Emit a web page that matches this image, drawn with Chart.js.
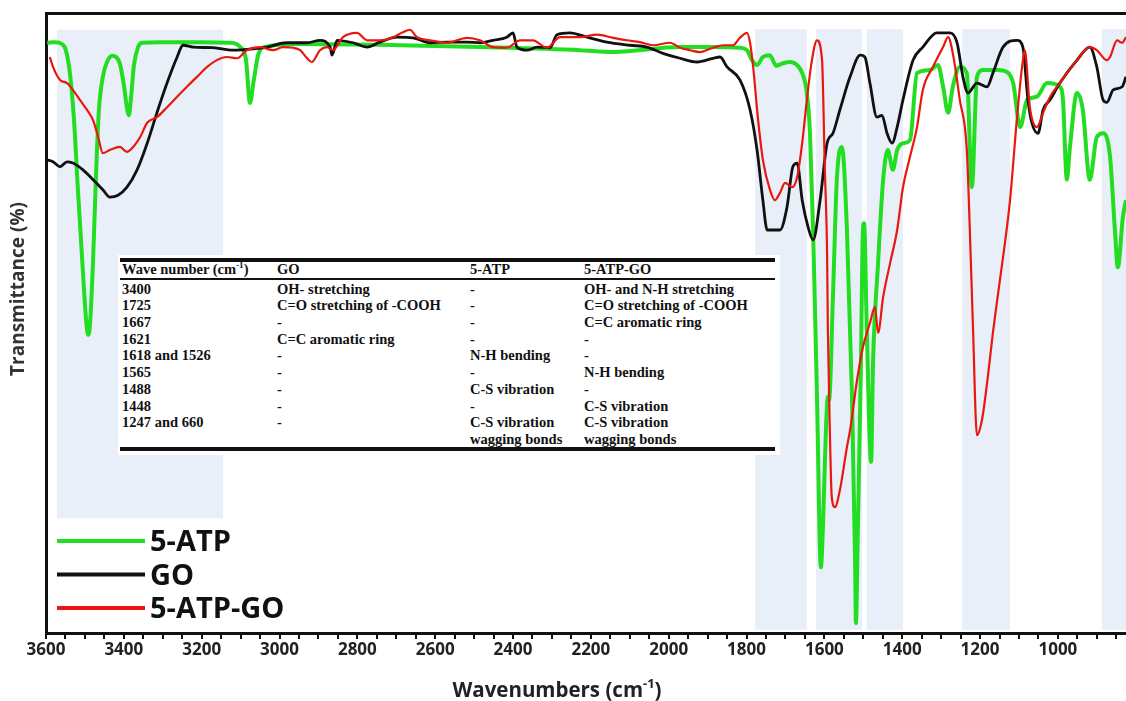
<!DOCTYPE html>
<html>
<head>
<meta charset="utf-8">
<script src="https://cdn.jsdelivr.net/npm/chart.js@4.4.1/dist/chart.umd.min.js"></script>
<style>
html, body { margin: 0; padding: 0; background: #fff; }
#wrap { position: relative; width: 1126px; height: 701px; overflow: hidden; }
#peakTable { position: absolute; left: 118px; top: 255px; width: 662px; height: 200px; background: #fff;
    font: bold 14.5px 'Liberation Serif', 'Times New Roman', serif; color: #111; }
#peakTable .rule { position: absolute; left: 2px; width: 655px; background: #111; }
#peakTable .cell { position: absolute; white-space: pre; line-height: 16.7px; }
#peakTable sup { font-size: 9px; line-height: 0; }
</style>
</head>
<body>
<div id="wrap">
    <canvas id="ftir" width="1126" height="701"></canvas>
    <div id="peakTable"></div>
</div>
<script>
// axis
const xTickLabels = [3600, 3400, 3200, 3000, 2800, 2600, 2400, 2200, 2000, 1800, 1600, 1400, 1200, 1000];
const xMin = 825;
const xMax = 3600;

// 5-ATP (green)
const atpWave = [3597,3577,3559,3549,3538,3528,3518,3507,3497,3492,
    3487,3479,3471,3464,3453,3443,3430,3420,3410,3400,
    3392,3387,3382,3374,3364,3353,3307,3204,3127,3101,
    3086,3076,3066,3055,3040,2947,2690,2485,2228,2143,
    1971,1886,1817,1799,1786,1773,1758,1740,1724,1706,
    1688,1670,1657,1645,1637,1629,1619,1609,1604,1596,
    1591,1588,1578,1568,1555,1542,1529,1521,1519,1514,
    1506,1501,1498,1491,1480,1475,1462,1449,1437,1424,
    1413,1398,1380,1362,1329,1308,1295,1282,1270,1252,
    1234,1221,1208,1192,1156,1131,1115,1097,1079,1054,
    1028,995,987,977,969,951,936,918,900,884,
    866,853,846,833,825];
const atpT = [95.2,95.3,95.0,94.0,90.0,82.7,71.5,60.2,50.5,48.1,
    49.7,60.2,74.7,84.4,90.0,92.1,93.1,92.9,91.8,88.4,
    84.7,83.5,86.0,91.6,94.4,95.2,95.3,95.3,95.2,94.5,
    92.4,85.5,89.2,93.2,94.5,95.0,94.8,94.5,94.0,93.7,
    94.5,94.5,94.4,94.0,92.4,91.6,92.9,93.2,91.5,91.9,
    92.1,91.6,90.3,87.1,80.6,65.0,38.1,10.6,16.6,32.7,
    38.1,37.6,54.2,73.1,78.4,65.0,38.1,11.3,1.6,16.6,
    43.5,65.0,66.1,48.9,27.6,43.5,59.7,73.1,77.9,74.7,
    77.9,79.0,79.5,90.3,90.8,91.6,88.1,83.9,88.1,91.3,
    90.3,71.9,89.7,90.8,90.8,90.5,88.7,81.6,86.0,86.5,
    88.7,88.1,86.0,73.1,78.4,87.1,84.4,73.1,80.0,80.6,
    76.8,64.5,59.0,67.1,69.8];

// GO (black)
const goWave = [3597,3582,3564,3546,3531,3505,3479,3454,3436,3415,
    3392,3366,3340,3315,3289,3263,3248,3222,3171,3120,
    3068,3032,2981,2929,2896,2870,2865,2852,2811,2775,
    2742,2698,2657,2613,2570,2518,2485,2451,2416,2400,
    2390,2364,2338,2305,2287,2254,2210,2159,2099,2056,
    2015,1971,1927,1886,1868,1850,1817,1791,1773,1758,
    1747,1714,1696,1681,1670,1657,1642,1629,1611,1593,
    1578,1560,1534,1508,1496,1483,1465,1452,1439,1426,
    1413,1398,1372,1347,1311,1277,1259,1244,1231,1208,
    1182,1167,1141,1105,1090,1077,1067,1051,1038,1020,
    995,951,918,900,884,874,858,835,825];
const goT = [76.3,76.0,75.2,76.0,75.8,74.7,73.1,71.5,70.3,70.6,
    71.9,74.7,79.0,83.9,88.7,92.9,94.8,94.5,94.4,94.0,
    94.2,94.5,95.2,95.2,95.6,94.5,93.2,95.6,95.2,94.5,
    95.3,96.1,96.0,95.2,95.3,95.3,95.2,95.6,96.1,96.8,
    94.5,94.0,94.5,94.4,96.5,96.8,96.1,95.3,94.8,94.5,
    93.5,92.7,92.1,92.7,92.9,91.3,89.2,84.4,77.9,69.8,
    65.0,65.0,68.7,75.2,75.8,69.8,65.5,63.4,69.8,79.0,
    80.6,84.4,89.7,93.2,92.9,88.7,83.2,83.5,80.6,79.0,
    81.6,86.0,92.4,94.5,96.8,96.8,95.2,89.7,87.1,88.7,
    88.1,90.3,94.5,95.6,94.5,86.0,82.3,80.6,84.4,86.0,
    88.7,92.4,94.5,91.3,86.0,85.6,87.6,88.1,89.7];

// 5-ATP-GO (red)
const atpGoWave = [3590,3582,3564,3546,3531,3513,3495,3479,3466,3454,
    3436,3410,3392,3376,3358,3340,3315,3289,3263,3238,
    3212,3186,3161,3135,3109,3084,3050,3017,2991,2965,
    2947,2929,2917,2896,2878,2863,2837,2801,2775,2742,
    2708,2683,2665,2647,2613,2570,2518,2485,2451,2416,
    2382,2349,2313,2279,2228,2184,2143,2107,2074,2040,
    1997,1971,1945,1920,1886,1861,1835,1817,1799,1791,
    1783,1771,1758,1740,1727,1714,1701,1683,1670,1657,
    1645,1632,1619,1606,1599,1593,1591,1586,1581,1573,
    1560,1542,1534,1516,1501,1483,1470,1462,1449,1431,
    1413,1398,1380,1362,1347,1321,1295,1282,1270,1252,
    1234,1226,1218,1208,1195,1182,1167,1156,1149,1123,
    1105,1092,1085,1072,1054,1038,1020,995,951,918,
    900,874,866,848,835,825];
const atpGoT = [92.9,91.3,89.2,88.7,87.6,86.0,84.4,82.7,80.0,77.4,
    77.9,78.4,77.6,78.4,80.0,82.3,83.2,84.8,86.5,88.1,
    89.7,91.3,92.4,92.9,92.7,94.0,94.5,94.0,94.5,94.4,
    94.0,92.7,92.1,94.0,94.5,94.0,96.1,96.8,95.6,95.6,
    96.1,96.9,97.3,96.1,95.6,95.2,96.0,95.6,94.5,94.4,
    95.6,95.6,94.4,96.1,96.1,96.5,96.0,95.6,95.3,94.8,
    95.2,94.4,94.0,93.7,94.4,94.8,94.8,96.0,96.8,95.2,
    91.3,83.2,76.3,71.5,69.8,71.0,72.6,71.9,73.5,79.0,
    86.0,92.4,95.6,92.4,75.2,61.0,48.9,32.7,21.9,20.3,
    23.1,30.0,32.7,40.8,46.1,50.0,52.6,48.4,54.2,59.7,
    65.0,71.9,76.8,81.6,87.6,91.3,94.5,96.1,93.5,86.0,
    77.9,64.5,48.9,31.9,34.4,40.3,48.4,53.7,56.9,69.8,
    83.2,91.3,94.0,84.8,81.6,83.9,86.5,88.7,92.4,94.5,
    94.0,92.4,92.9,95.6,95.2,96.1];

// shaded bands (wavenumber range, transmittance range)
const bandFrom = [3572, 1778, 1622, 1491, 1246, 887];
const bandTo = [3145, 1645, 1503, 1398, 1123, 825];
const bandTop = [97.3, 97.4, 97.4, 97.4, 97.4, 97.4];
const bandBottom = [18.5, 0.5, 0.5, 0.5, 0.5, 0.5];

// table
const tableHeader = ['Wave number (cm', 'GO', '5-ATP', '5-ATP-GO'];
const tableRows = [
    ['3400', 'OH- stretching', '-', 'OH- and N-H stretching'],
    ['1725', 'C=O stretching of -COOH', '-', 'C=O stretching of -COOH'],
    ['1667', '-', '-', 'C=C aromatic ring'],
    ['1621', 'C=C aromatic ring', '-', '-'],
    ['1618 and 1526', '-', 'N-H bending', '-'],
    ['1565', '-', '-', 'N-H bending'],
    ['1488', '-', 'C-S vibration', '-'],
    ['1448', '-', '-', 'C-S vibration'],
    ['1247 and 660', '-', 'C-S vibration\nwagging bonds', 'C-S vibration\nwagging bonds']
];

function buildTable() {
    const box = document.getElementById('peakTable');
    const colX = [4, 159, 352, 466];
    const rowH = 16.7;
    const rules = [[3, 3.5], [23, 2], [192, 3.5]];
    rules.forEach(r => {
        const d = document.createElement('div');
        d.className = 'rule';
        d.style.top = r[0] + 'px';
        d.style.height = r[1] + 'px';
        box.appendChild(d);
    });
    tableHeader.forEach((txt, c) => {
        const d = document.createElement('div');
        d.className = 'cell';
        d.style.left = colX[c] + 'px';
        d.style.top = (14 - rowH / 2) + 'px';
        d.textContent = txt;
        if (c == 0) {
            const s = document.createElement('sup');
            s.textContent = '-1';
            d.appendChild(s);
            d.appendChild(document.createTextNode(')'));
        }
        box.appendChild(d);
    });
    tableRows.forEach((row, r) => {
        row.forEach((txt, c) => {
            const d = document.createElement('div');
            d.className = 'cell';
            d.style.left = colX[c] + 'px';
            d.style.top = (34 + r * rowH - rowH / 2) + 'px';
            d.textContent = txt;
            box.appendChild(d);
        });
    });
}

const minorTicks = [];
for (let v = xMax; v >= 850; v -= 50) minorTicks.push(v);

const bandPlugin = {
    id: 'bands',
    beforeDatasetsDraw(chart) {
        const {ctx, scales: {x, y}} = chart;
        ctx.save();
        ctx.fillStyle = '#e9eff9';
        for (let i = 0; i < bandFrom.length; i++) {
            const x0 = x.getPixelForValue(bandFrom[i]);
            const x1 = x.getPixelForValue(bandTo[i]);
            const y0 = y.getPixelForValue(bandTop[i]);
            const y1 = y.getPixelForValue(bandBottom[i]);
            ctx.fillRect(x0, y0, x1 - x0, y1 - y0);
        }
        ctx.restore();
    }
};

const textPlugin = {
    id: 'texts',
    afterDraw(chart) {
        const ctx = chart.ctx;
        ctx.save();
        // legend
        ctx.font = 'bold 29px "Open Sans"';
        ctx.textBaseline = 'alphabetic';
        chart.data.datasets.forEach((ds, i) => {
            const ly = 541 + i * 33.5;
            ctx.strokeStyle = ds.borderColor;
            ctx.lineWidth = 4;
            ctx.beginPath();
            ctx.moveTo(57, ly);
            ctx.lineTo(145, ly);
            ctx.stroke();
            ctx.fillStyle = '#111';
            ctx.fillText(ds.label, 150, ly + 10);
        });
        // x title with superscript
        ctx.fillStyle = '#222';
        ctx.font = 'bold 20.5px "Open Sans"';
        const a = 'Wavenumbers (cm';
        const wa = ctx.measureText(a).width;
        ctx.font = 'bold 13px "Open Sans"';
        const ws = ctx.measureText('-1').width;
        ctx.font = 'bold 20.5px "Open Sans"';
        const wc = ctx.measureText(')').width;
        let tx = 557 - (wa + ws + wc) / 2;
        ctx.fillText(a, tx, 697);
        ctx.font = 'bold 13px "Open Sans"';
        ctx.fillText('-1', tx + wa, 688);
        ctx.font = 'bold 20.5px "Open Sans"';
        ctx.fillText(')', tx + wa + ws, 697);
        // y title
        ctx.translate(24, 289);
        ctx.rotate(-Math.PI / 2);
        ctx.textAlign = 'center';
        ctx.font = 'bold 19px "Open Sans"';
        ctx.fillStyle = '#333';
        ctx.fillText('Transmittance (%)', 0, 0);
        ctx.restore();
    }
};

function toPoints(xs, ys) {
    return xs.map((w, i) => ({x: w, y: ys[i]}));
}

window.addEventListener('DOMContentLoaded', () => {
    buildTable();
    const ctx = document.getElementById('ftir').getContext('2d');
    new Chart(ctx, {
        type: 'line',
        data: {
            datasets: [
                {label: '5-ATP', data: toPoints(atpWave, atpT), borderColor: '#22dd22', borderWidth: 4, order: 2},
                {label: 'GO', data: toPoints(goWave, goT), borderColor: '#111111', borderWidth: 2.8, order: 1},
                {label: '5-ATP-GO', data: toPoints(atpGoWave, atpGoT), borderColor: '#e8180e', borderWidth: 2.2, order: 0}
            ]
        },
        options: {
            responsive: false,
            animation: false,
            devicePixelRatio: 1,
            layout: {padding: 0},
            elements: {point: {radius: 0}, line: {cubicInterpolationMode: 'monotone', fill: false}},
            plugins: {legend: {display: false}, tooltip: {enabled: false}},
            scales: {
                x: {
                    type: 'linear', reverse: true, min: xMin, max: xMax,
                    afterBuildTicks: (s) => { s.ticks = minorTicks.map(v => ({value: v})); },
                    afterFit: (s) => { s.height = 68; },
                    ticks: {
                        autoSkip: false, maxRotation: 0, padding: 1, color: '#222',
                        font: {family: 'Open Sans', weight: 'bold', size: 17},
                        callback: (v) => xTickLabels.includes(v) ? String(v) : ''
                    },
                    grid: {drawOnChartArea: false, drawTicks: true, tickLength: 6, color: '#111', lineWidth: 2},
                    border: {display: true, color: '#111', width: 3}
                },
                xTop: {
                    type: 'linear', position: 'top', reverse: true, min: xMin, max: xMax,
                    ticks: {display: false}, grid: {display: false},
                    border: {display: true, color: '#111', width: 3},
                    afterFit: (s) => { s.height = 13; }
                },
                y: {
                    min: 0, max: 100,
                    ticks: {display: false}, grid: {display: false},
                    border: {display: true, color: '#111', width: 3},
                    afterFit: (s) => { s.width = 46; }
                }
            }
        },
        plugins: [bandPlugin, textPlugin]
    });
});
</script>
</body>
</html>
